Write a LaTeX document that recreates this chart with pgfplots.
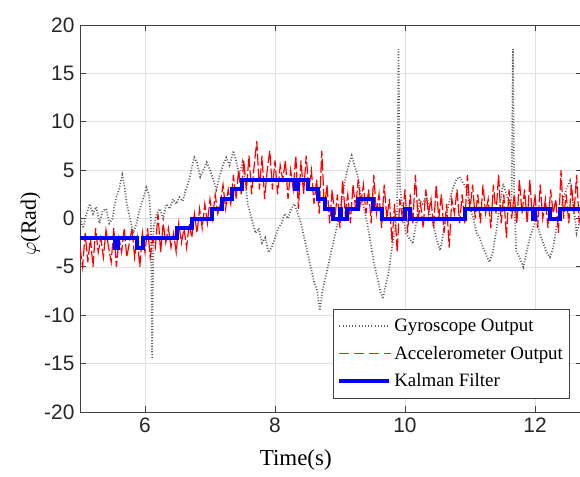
\documentclass[border=0pt]{standalone}
\usepackage{fontspec}
\setmainfont{Liberation Serif}
\setsansfont{Liberation Sans}
\usepackage{pgfplots}
\pgfplotsset{compat=1.18}
\definecolor{accred}{RGB}{235,40,40}
\definecolor{gyrogray}{RGB}{95,95,95}
\definecolor{kalblue}{RGB}{0,0,255}
\begin{document}
\begin{tikzpicture}[x=1bp,y=1bp]
\begin{axis}[
  at={(80bp,65bp)}, anchor=south west, scale only axis,
  width=501.8bp, height=387bp,
  xmin=5, xmax=12.72, ymin=-20, ymax=20,
  xtick={6,8,10,12}, ytick={-20,-15,...,20},
  grid=major, grid style={black!12, line width=0.6bp},
  tick align=inside, major tick length=6bp,
  tick style={black!75, line width=0.8bp},
  axis line style={black!75, line width=1bp},
  /pgf/number format/assume math mode=true,
  ticklabel style={font=\sffamily\fontsize{21}{21}\selectfont, text=black!85},
  xticklabel style={yshift=-2bp},
  yticklabel style={xshift=-2bp},
  xlabel={Time(s)},
  xlabel style={font=\fontsize{23}{23}\selectfont, at={(axis description cs:0.43,0)}, anchor=north, yshift=-34bp},
  ylabel={$\varphi$(Rad)},
  ylabel style={font=\fontsize{22}{22}\selectfont, at={(axis description cs:0,0.486)}, anchor=south, yshift=36bp},
  legend style={at={(0.504,0.034)}, anchor=south west, draw=black!75, line width=0.9bp, fill=white,
    font=\fontsize{19}{21}\selectfont, inner xsep=4bp, inner ysep=8bp, row sep=9bp},
  legend cell align=left,
]
\addplot[forget plot, gyrogray, line width=1.7bp, dash pattern=on 1bp off 1.8bp] coordinates {
(5.00,0.0)(5.05,-1.0)(5.10,0.5)(5.15,1.5)(5.20,0.5)(5.25,1.2)(5.30,-0.5)(5.35,0.8)(5.40,1.0)(5.45,-0.5)
(5.50,0.0)(5.55,2.0)(5.60,3.0)(5.65,4.5)(5.68,3.5)(5.72,1.5)(5.77,0.0)(5.82,-1.5)(5.87,-0.5)(5.92,1.0)
(5.97,2.0)(6.02,3.2)(6.06,2.5)(6.09,0.0)(6.11,-14.5)(6.13,-1.0)(6.18,0.5)(6.23,1.0)(6.28,0.0)(6.33,1.5)
(6.38,1.0)(6.43,2.0)(6.48,1.5)(6.53,2.2)(6.58,1.8)(6.63,3.0)(6.68,4.0)(6.72,5.3)(6.76,6.3)(6.80,5.8)
(6.85,4.3)(6.90,5.0)(6.95,5.8)(7.00,5.0)(7.05,4.0)(7.10,3.0)(7.15,4.5)(7.20,5.5)(7.25,6.3)(7.30,5.5)
(7.36,7.0)(7.40,6.0)(7.45,4.5)(7.50,5.8)(7.54,4.0)(7.58,1.5)(7.62,0.5)(7.66,-0.5)(7.70,-1.5)(7.75,-1.0)
(7.80,-2.5)(7.85,-2.0)(7.90,-3.5)(7.95,-3.0)(8.00,-2.0)(8.05,-1.0)(8.10,-0.5)(8.15,0.5)(8.20,0.0)(8.25,1.0)
(8.30,1.5)(8.35,0.5)(8.40,-0.5)(8.45,-2.0)(8.50,-3.5)(8.55,-5.0)(8.60,-6.5)(8.65,-7.5)(8.69,-9.5)(8.73,-7.5)
(8.78,-6.0)(8.83,-4.5)(8.88,-3.0)(8.93,-1.5)(8.98,0.0)(9.03,2.0)(9.08,4.0)(9.13,5.5)(9.18,6.5)(9.22,5.5)
(9.27,4.5)(9.32,2.5)(9.37,1.0)(9.42,-0.5)(9.47,-2.5)(9.52,-4.5)(9.57,-6.0)(9.62,-7.5)(9.66,-8.3)(9.70,-7.0)
(9.75,-5.5)(9.80,-3.0)(9.85,-1.0)(9.88,1.0)(9.90,17.5)(9.92,3.5)(9.96,1.0)(10.01,-1.5)(10.06,-2.0)(10.12,-2.6)
(10.17,-0.5)(10.22,1.9)(10.27,1.5)(10.33,2.5)(10.38,0.5)(10.43,-0.5)(10.48,-2.0)(10.54,-3.3)(10.59,-1.5)(10.64,0.5)
(10.69,2.0)(10.74,3.2)(10.79,4.0)(10.84,4.3)(10.90,3.6)(10.95,3.0)(11.00,1.0)(11.05,0.1)(11.10,-1.5)(11.15,-2.0)
(11.20,-3.0)(11.25,-3.8)(11.30,-4.5)(11.35,-3.5)(11.40,-1.5)(11.45,1.0)(11.51,3.6)(11.56,2.5)(11.61,1.5)(11.64,2.0)
(11.66,17.5)(11.68,2.0)(11.71,-3.3)(11.76,-4.0)(11.82,-5.0)(11.87,-3.5)(11.92,-2.0)(11.97,-1.0)(12.02,0.0)(12.07,-1.5)
(12.13,-2.6)(12.18,-3.5)(12.23,-4.0)(12.28,-3.0)(12.33,-1.0)(12.38,0.5)(12.43,1.9)(12.48,3.0)(12.54,3.9)(12.59,1.5)
(12.64,-1.5)(12.68,-0.5)(12.72,0.5)};
\addplot[forget plot, red, line width=1.2bp, dash pattern=on 12bp off 3bp] coordinates {
(5.00,-3.0)(5.04,-5.0)(5.08,-1.5)(5.12,-4.5)(5.16,-2.0)(5.20,-5.0)(5.24,-1.0)(5.28,-3.5)(5.32,-2.0)(5.36,-4.0)
(5.40,-1.2)(5.44,-3.0)(5.48,-4.5)(5.52,-1.0)(5.56,-5.0)(5.60,-2.0)(5.64,-3.5)(5.68,-1.0)(5.72,-4.0)(5.76,-2.5)
(5.80,-1.0)(5.84,-4.0)(5.88,-2.0)(5.92,-5.0)(5.96,-1.5)(6.00,-3.5)(6.04,-1.0)(6.08,-4.0)(6.12,-2.0)(6.16,-3.0)
(6.20,0.5)(6.24,-3.5)(6.28,-0.5)(6.32,-2.5)(6.36,-1.0)(6.40,-3.0)(6.44,-1.5)(6.48,-3.5)(6.52,-0.5)(6.56,-2.5)
(6.60,-1.0)(6.64,-3.0)(6.68,-0.5)(6.72,-2.0)(6.76,0.5)(6.80,-1.5)(6.84,1.0)(6.88,-1.0)(6.92,1.5)(6.96,-0.5)
(7.00,2.0)(7.04,0.0)(7.08,2.5)(7.12,0.5)(7.16,1.5)(7.20,3.5)(7.24,1.0)(7.28,3.0)(7.32,1.5)(7.36,4.5)
(7.40,2.0)(7.44,5.0)(7.48,2.5)(7.52,6.0)(7.56,3.0)(7.60,6.5)(7.64,2.5)(7.68,5.5)(7.72,8.0)(7.76,3.0)
(7.80,6.5)(7.84,2.0)(7.88,5.0)(7.92,7.0)(7.96,3.0)(8.00,6.0)(8.04,2.5)(8.08,5.5)(8.12,4.0)(8.16,6.0)
(8.20,2.0)(8.24,5.0)(8.28,3.0)(8.32,6.5)(8.36,1.0)(8.40,6.0)(8.44,2.5)(8.48,6.5)(8.52,3.0)(8.56,5.0)
(8.60,1.5)(8.64,4.0)(8.68,0.5)(8.72,7.0)(8.76,1.0)(8.80,3.5)(8.84,-0.5)(8.88,3.0)(8.92,0.0)(8.96,2.5)
(9.00,-1.0)(9.04,4.0)(9.08,0.5)(9.12,2.5)(9.16,-0.5)(9.20,3.5)(9.24,1.0)(9.28,4.0)(9.32,1.5)(9.36,3.5)
(9.40,0.5)(9.44,3.0)(9.48,-0.5)(9.52,4.5)(9.56,0.5)(9.60,2.5)(9.64,-1.0)(9.68,3.5)(9.72,0.0)(9.76,2.0)
(9.80,-2.5)(9.84,1.5)(9.88,-3.5)(9.92,2.0)(9.96,0.0)(10.00,3.0)(10.04,-1.5)(10.08,2.5)(10.12,-0.5)(10.16,4.5)
(10.20,0.0)(10.24,1.5)(10.28,-1.0)(10.32,3.0)(10.36,0.5)(10.40,2.0)(10.44,-1.0)(10.48,3.5)(10.52,0.0)(10.56,2.5)
(10.60,-1.5)(10.64,1.5)(10.68,-3.0)(10.72,2.0)(10.76,0.5)(10.80,3.0)(10.84,-0.5)(10.88,2.5)(10.92,-0.5)(10.96,4.5)
(11.00,1.0)(11.04,3.5)(11.08,0.0)(11.12,2.5)(11.16,-0.5)(11.20,3.5)(11.24,0.5)(11.28,2.0)(11.32,-1.0)(11.36,3.5)
(11.40,0.5)(11.44,4.5)(11.48,-0.5)(11.52,2.5)(11.56,-2.0)(11.60,3.0)(11.64,0.0)(11.68,2.5)(11.72,-0.5)(11.76,4.0)
(11.80,0.5)(11.84,3.0)(11.88,-0.5)(11.92,4.0)(11.96,0.0)(12.00,2.5)(12.04,-1.0)(12.08,3.5)(12.12,0.0)(12.16,2.0)
(12.20,-1.0)(12.24,3.0)(12.28,0.5)(12.32,2.0)(12.36,-1.5)(12.40,5.0)(12.44,0.0)(12.48,2.5)(12.52,-0.5)(12.56,3.5)
(12.60,0.5)(12.64,4.5)(12.68,-0.5)(12.72,2.0)};
\addplot[forget plot, kalblue, line width=4bp] coordinates {
(5,-2)(5.54,-2)(5.54,-3)(5.58,-3)(5.58,-2)(5.88,-2)(5.88,-3)(5.97,-3)(5.97,-2)(6.49,-2)(6.49,-1)(6.72,-1)
(6.72,0)(7.03,0)(7.03,1)(7.18,1)(7.18,2)(7.34,2)(7.34,3)(7.49,3)(7.49,4)(8.31,4)(8.31,3)(8.36,3)(8.36,4)
(8.51,4)(8.51,3)(8.66,3)(8.66,2)(8.77,2)(8.77,1)(8.89,1)(8.89,0)(9.0,0)(9.0,1)(9.02,1)(9.02,0)(9.1,0)
(9.1,1)(9.28,1)(9.28,2)(9.51,2)(9.51,1)(9.65,1)(9.65,0)(10.0,0)(10.0,1)(10.08,1)(10.08,0)(10.92,0)
(10.92,1)(11.97,1)(11.97,0)(12.0,0)(12.0,1)(12.23,1)(12.23,0)(12.38,0)(12.38,1)(12.72,1)};
\addlegendimage{legend image code/.code={\begin{pgfscope}\pgfsetstrokecolor{gyrogray}\pgfsetlinewidth{1.4bp}\pgfsetdash{{1bp}{2.2bp}}{0bp}\pgfpathmoveto{\pgfpoint{0bp}{0bp}}\pgfpathlineto{\pgfpoint{50bp}{0bp}}\pgfusepath{stroke}\end{pgfscope}}}
\addlegendentry{Gyroscope Output}
\addlegendimage{legend image code/.code={\begin{pgfscope}\pgfsetstrokecolor{accred}\pgfsetlinewidth{1.8bp}\pgfsetdash{{10bp}{5bp}}{0bp}\pgfpathmoveto{\pgfpoint{0bp}{0bp}}\pgfpathlineto{\pgfpoint{52bp}{0bp}}\pgfusepath{stroke}\end{pgfscope}}}
\addlegendentry{Accelerometer Output}
\addlegendimage{legend image code/.code={\begin{pgfscope}\pgfsetstrokecolor{kalblue}\pgfsetlinewidth{4bp}\pgfpathmoveto{\pgfpoint{0bp}{0bp}}\pgfpathlineto{\pgfpoint{50bp}{0bp}}\pgfusepath{stroke}\end{pgfscope}}}
\addlegendentry{Kalman Filter}
\end{axis}
\pgfresetboundingbox
\useasboundingbox (0bp,0bp) rectangle (580bp,477bp);
\end{tikzpicture}
\end{document}
